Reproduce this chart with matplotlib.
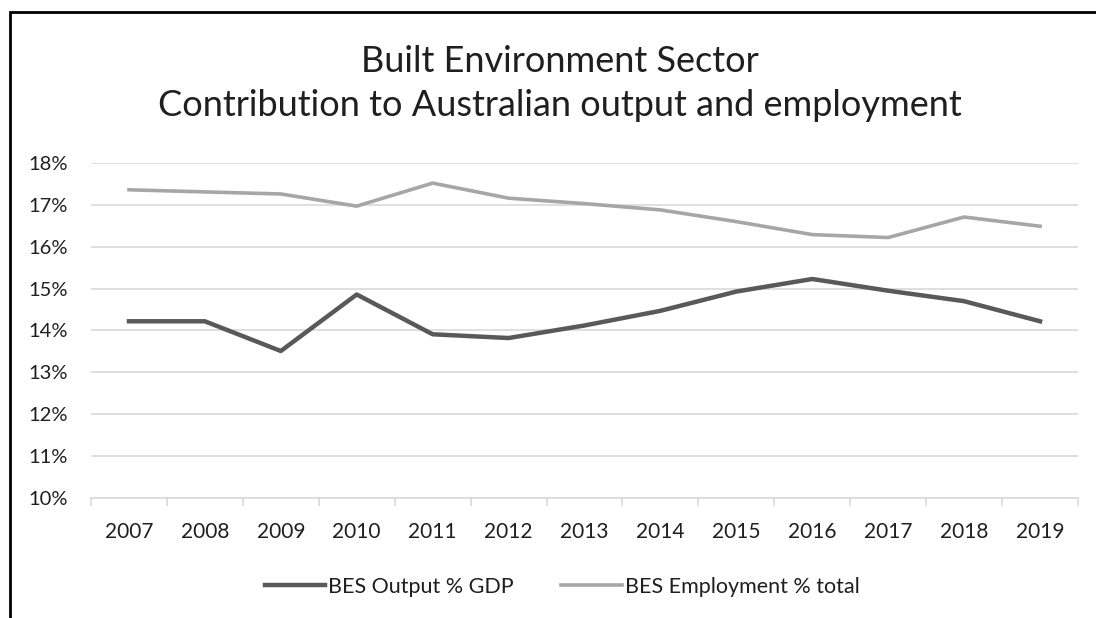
import matplotlib.pyplot as plt
import numpy as np
from matplotlib.patches import Rectangle
from matplotlib.ticker import FixedLocator, PercentFormatter

plt.rcParams['font.family'] = ['Lato', 'DejaVu Sans']

years = ['2007', '2008', '2009', '2010', '2011', '2012', '2013',
         '2014', '2015', '2016', '2017', '2018', '2019']
output_gdp = [14.22, 14.22, 13.51, 14.86, 13.91, 13.82, 14.12,
              14.47, 14.93, 15.23, 14.95, 14.70, 14.22]
employment_total = [17.36, 17.31, 17.26, 16.97, 17.52, 17.16, 17.03,
                    16.88, 16.60, 16.29, 16.22, 16.71, 16.49]

text_color = '#1f1f1f'

fig = plt.figure(figsize=(10.96, 6.18), dpi=100)
# chart frame (extends past the right and bottom edges)
fig.patches.append(Rectangle((10 / 1096, -0.1), 1.2, 1 - 12 / 618 + 0.1,
                             transform=fig.transFigure, fill=False,
                             edgecolor='black', linewidth=2))

ax = fig.add_axes([91 / 1096, 1 - 498 / 618, 987 / 1096, 335 / 618])
x = np.arange(len(years))
ax.plot(x, output_gdp, color='#595959', linewidth=3.2, label='BES Output % GDP')
ax.plot(x, employment_total, color='#A6A6A6', linewidth=2.6,
        label='BES Employment % total')

ax.set_xlim(-0.5, len(years) - 0.5)
ax.set_ylim(10, 18)
ax.set_yticks(np.arange(10, 19, 1))
ax.yaxis.set_major_formatter(PercentFormatter(decimals=0))
ax.grid(axis='y', color='#D9D9D9', linewidth=1.2)
ax.set_axisbelow(True)

ax.set_xticks(x)
ax.set_xticklabels(years)
ax.xaxis.set_minor_locator(FixedLocator(np.arange(-0.5, len(years), 1)))
ax.tick_params(axis='x', which='major', length=0, pad=17, labelsize=15,
               labelcolor=text_color)
ax.tick_params(axis='x', which='minor', length=6, color='#D9D9D9', width=1.2)
ax.tick_params(axis='y', length=0, pad=16.5, labelsize=14.5,
               labelcolor=text_color)
for side in ['top', 'right', 'left']:
    ax.spines[side].set_visible(False)
ax.spines['bottom'].set_color('#D9D9D9')
ax.spines['bottom'].set_linewidth(1.2)

fig.text(0.511, 1 - 62 / 618, 'Built Environment Sector', ha='center',
         va='center', fontsize=26, color=text_color)
fig.text(0.511, 1 - 105 / 618, 'Contribution to Australian output and employment',
         ha='center', va='center', fontsize=26, color=text_color)

leg = fig.legend(loc='center', bbox_to_anchor=(0.513, 1 - 587 / 618), ncol=2,
                 frameon=False, fontsize=15.5, handlelength=2.8,
                 handletextpad=0.15, columnspacing=2.2)
for t in leg.get_texts():
    t.set_color(text_color)

fig.savefig('out.png', dpi=100)
